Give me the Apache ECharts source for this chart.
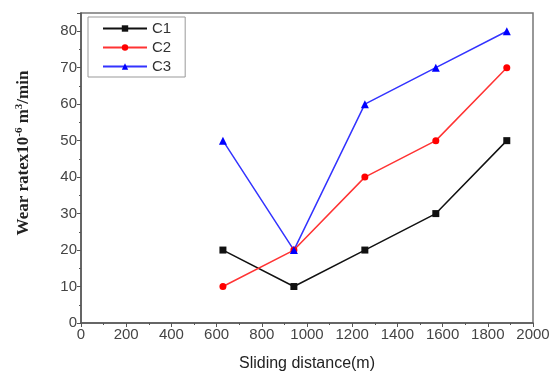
<!DOCTYPE html>
<html><head><meta charset="utf-8">
<script src="https://cdn.jsdelivr.net/npm/echarts@6/dist/echarts.min.js"></script>
<style>html,body{margin:0;padding:0;background:#fff}#c{width:557px;height:382px}</style>
</head><body><div id="c"></div>
<script>
const distances = [628, 942, 1256, 1570, 1884];
const c1 = [20, 10, 20, 30, 50];
const c2 = [10, 20, 40, 50, 70];
const c3 = [50, 20, 60, 70, 80];
const seriesNames = ['C1', 'C2', 'C3'];

const chart = echarts.init(document.getElementById('c'), null, {renderer: 'canvas'});
const pair = arr => distances.map((x, i) => [x, arr[i]]);
const axisCommon = {
  axisLine: {show: true, lineStyle: {color: '#555', width: 1.5}},
  axisTick: {show: true, inside: false, length: 4, lineStyle: {color: '#555'}},
  minorTick: {show: true, splitNumber: 2, length: 2, lineStyle: {color: '#555'}},
  splitLine: {show: false},
  axisLabel: {color: '#444', fontFamily: 'Liberation Sans, Arial', fontSize: 15, margin: 4}
};
chart.setOption({
  animation: false,
  backgroundColor: '#fff',
  grid: {left: 81, right: 24, top: 13, bottom: 59, show: true, borderColor: '#777', borderWidth: 1.5},
  legend: {
    left: 88, top: 17, orient: 'vertical', itemGap: 4, itemWidth: 44, itemHeight: 8,
    borderColor: '#999', borderWidth: 1, padding: [4, 14, 3, 14],
    textStyle: {fontFamily: 'Liberation Sans, Arial', fontSize: 15, color: '#333'},
    data: seriesNames
  },
  xAxis: Object.assign({}, axisCommon, {
    type: 'value', min: 0, max: 2000, interval: 200,
    axisLabel: Object.assign({}, axisCommon.axisLabel, {formatter: v => String(v)}),
    name: 'Sliding distance(m)', nameLocation: 'middle', nameGap: 33,
    nameTextStyle: {fontFamily: 'Liberation Sans, Arial', fontSize: 16, color: '#222'}
  }),
  yAxis: Object.assign({}, axisCommon, {
    type: 'value', min: 0, max: 85, interval: 10,
    axisLabel: Object.assign({}, axisCommon.axisLabel, {showMaxLabel: false}),
    name: '{b|Wear ratex10}{s|-6}{b| m}{s|3}{b|/min}', nameLocation: 'middle', nameGap: 48,
    nameTextStyle: {
      fontFamily: 'Liberation Serif, Times New Roman', fontWeight: 'bold', fontSize: 17, color: '#222',
      padding: [0, 0, 0, 30],
      rich: {
        b: {fontFamily: 'Liberation Serif', fontWeight: 'bold', fontSize: 17, color: '#222'},
        s: {fontFamily: 'Liberation Serif', fontWeight: 'bold', fontSize: 11, color: '#222', verticalAlign: 'top', padding: [0, 0, 8, 0]}
      }
    }
  }),
  series: [
    {name: 'C1', type: 'line', data: pair(c1), symbol: 'rect', symbolSize: 7,
     itemStyle: {color: '#111'}, lineStyle: {color: '#111', width: 1.5}},
    {name: 'C2', type: 'line', data: pair(c2), symbol: 'circle', symbolSize: 7,
     itemStyle: {color: '#ff0000'}, lineStyle: {color: '#ff3333', width: 1.5}},
    {name: 'C3', type: 'line', data: pair(c3), symbol: 'triangle', symbolSize: 8,
     itemStyle: {color: '#0000ff'}, lineStyle: {color: '#3333ff', width: 1.5}}
  ]
});
</script></body></html>
